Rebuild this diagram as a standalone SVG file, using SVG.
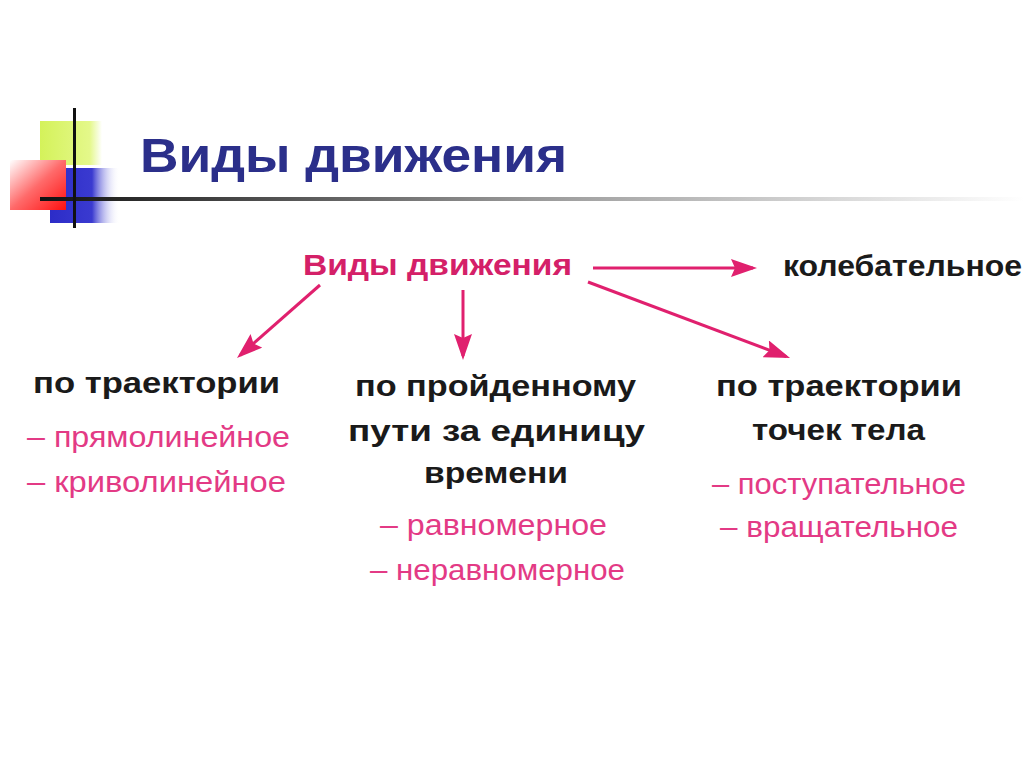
<svg xmlns="http://www.w3.org/2000/svg" width="1024" height="767" viewBox="0 0 1024 767">
<defs>
<linearGradient id="red" x1="0" y1="0" x2="1" y2="1"><stop offset="0" stop-color="#ffffff"/><stop offset="0.5" stop-color="#ff6a6a"/><stop offset="1" stop-color="#ff1010"/></linearGradient>
<linearGradient id="blue" x1="0" y1="0" x2="1" y2="0"><stop offset="0" stop-color="#2c2cc8"/><stop offset="0.6" stop-color="#3a3ad0"/><stop offset="1" stop-color="#ffffff" stop-opacity="0"/></linearGradient>
<linearGradient id="green" x1="0" y1="0" x2="1" y2="0"><stop offset="0" stop-color="#d4f25a"/><stop offset="0.8" stop-color="#e4f88a"/><stop offset="1" stop-color="#ffffff"/></linearGradient>
<linearGradient id="hline" x1="0" y1="0" x2="1" y2="0"><stop offset="0" stop-color="#111111"/><stop offset="0.5" stop-color="#999999"/><stop offset="1" stop-color="#ffffff"/></linearGradient>
<marker id="ah" viewBox="0 0 26 18" refX="22" refY="9" markerWidth="26" markerHeight="18" orient="auto" markerUnits="userSpaceOnUse"><path d="M0,0 L26,9 L0,18 L4,9 z" fill="#e0206e"/></marker>
<style>
.b{font-family:"Liberation Sans",Arial,sans-serif;font-weight:bold;font-size:30px;fill:#1a1a1a}
.p{font-family:"Liberation Sans",Arial,sans-serif;font-size:29px;fill:#e33a85}
.pk{font-family:"Liberation Sans",Arial,sans-serif;font-weight:bold;font-size:29px;fill:#d42068}
.c{stroke:#e0206e;stroke-width:3;fill:none}
</style>
</defs>
<rect width="1024" height="767" fill="#ffffff"/>
<g id="decor">
<rect x="40" y="121" width="62" height="44" fill="url(#green)"/>
<rect x="50" y="168" width="70" height="55" fill="url(#blue)"/>
<rect x="10" y="160" width="56" height="50" fill="url(#red)"/>
<rect x="40" y="197" width="984" height="4" fill="url(#hline)"/>
<rect x="73" y="108" width="3" height="120" fill="#111111"/>
</g>
<g id="title"><text x="140" y="172" font-family="'Liberation Sans',Arial,sans-serif" font-weight="bold" font-size="48" fill="#2b2f8a" textLength="427" lengthAdjust="spacingAndGlyphs">Виды движения</text></g>
<g id="connectors">
<line class="c" x1="593" y1="268" x2="753" y2="268" marker-end="url(#ah)"/>
<line class="c" x1="320" y1="285" x2="240" y2="355.4" marker-end="url(#ah)"/>
<line class="c" x1="463" y1="290" x2="463" y2="356" marker-end="url(#ah)"/>
<line class="c" x1="588" y1="282" x2="786.3" y2="356.6" marker-end="url(#ah)"/>
</g>
<g id="root"><text class="pk" x="303" y="275" textLength="269" lengthAdjust="spacingAndGlyphs">Виды движения</text></g>
<g id="osc"><text class="b" x="783" y="276" textLength="239" lengthAdjust="spacingAndGlyphs">колебательное</text></g>
<g id="traj">
<text class="b" x="33" y="393" textLength="247" lengthAdjust="spacingAndGlyphs">по траектории</text>
<text class="p" x="27" y="447" textLength="263" lengthAdjust="spacingAndGlyphs">– прямолинейное</text>
<text class="p" x="27" y="492" textLength="259" lengthAdjust="spacingAndGlyphs">– криволинейное</text>
</g>
<g id="path">
<text class="b" x="355" y="396" textLength="281" lengthAdjust="spacingAndGlyphs">по пройденному</text>
<text class="b" x="348" y="441" textLength="297" lengthAdjust="spacingAndGlyphs">пути  за  единицу</text>
<text class="b" x="424" y="483" textLength="144" lengthAdjust="spacingAndGlyphs">времени</text>
<text class="p" x="380" y="535" textLength="227" lengthAdjust="spacingAndGlyphs">– равномерное</text>
<text class="p" x="370" y="580" textLength="255" lengthAdjust="spacingAndGlyphs">– неравномерное</text>
</g>
<g id="points">
<text class="b" x="716" y="396" textLength="246" lengthAdjust="spacingAndGlyphs">по траектории</text>
<text class="b" x="752" y="440" textLength="173" lengthAdjust="spacingAndGlyphs">точек тела</text>
<text class="p" x="712" y="494" textLength="254" lengthAdjust="spacingAndGlyphs">– поступательное</text>
<text class="p" x="720" y="537" textLength="238" lengthAdjust="spacingAndGlyphs">– вращательное</text>
</g>
</svg>
